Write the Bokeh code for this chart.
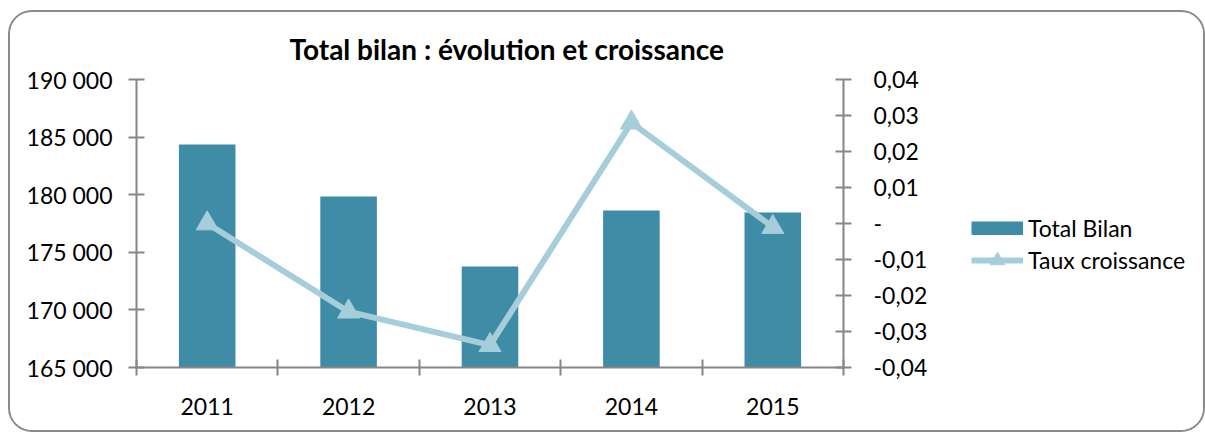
from bokeh.plotting import figure
from bokeh.layouts import row
from bokeh.models import (Range1d, LinearAxis, FixedTicker, CustomJSTickFormatter,
                          Legend, LegendItem, ColumnDataSource)
from bokeh.embed import file_html
from bokeh.resources import INLINE

# ---- data ----
years = ["2011", "2012", "2013", "2014", "2015"]
total_bilan = [184360, 179850, 173770, 178630, 178460]
taux_croissance = [0.0, -0.0245, -0.0338, 0.0280, -0.0010]

left_ticks = [165000, 170000, 175000, 180000, 185000, 190000]
left_labels = ["165 000", "170 000", "175 000", "180 000", "185 000", "190 000"]
right_ticks = [-0.04, -0.03, -0.02, -0.01, 0.0, 0.01, 0.02, 0.03, 0.04]
right_labels = ["-0,04", "-0,03", "-0,02", "-0,01", "-", "0,01", "0,02", "0,03", "0,04"]
series_names = ["Total Bilan", "Taux croissance"]

BAR = "#3e8ca5"
LINE = "#a6cdda"
AXIS = "#868686"
FONT = "Lato"
H = 418

xc = [i + 0.5 for i in range(len(years))]
src = ColumnDataSource(dict(x=xc, year=years, tb=total_bilan, tc=taux_croissance))

p = figure(width=933, height=H, output_backend="svg", toolbar_location=None,
           x_range=Range1d(0, len(years)), y_range=Range1d(left_ticks[0], left_ticks[-1]),
           x_axis_location=None, y_axis_location=None,
           min_border_left=126, min_border_top=67, min_border_bottom=63, min_border_right=100)
p.extra_y_ranges = {"rate": Range1d(right_ticks[0], right_ticks[-1])}
p.xgrid.visible = False
p.ygrid.visible = False
p.outline_line_color = None
p.background_fill_color = "white"
p.border_fill_color = "white"

p.title.text = "Total bilan : évolution et croissance"
p.title.text_font = FONT
p.title.text_font_style = "bold"
p.title.text_font_size = "28px"
p.title.text_color = "black"
p.title.align = "left"
p.title.offset = 153
p.title.standoff = 28

def fmt(ticks, labels):
    return CustomJSTickFormatter(args=dict(t=ticks, l=labels), code="""
        let best = 0, d = 1e99;
        for (let i = 0; i < t.length; i++) { const dd = Math.abs(t[i] - tick); if (dd < d) { d = dd; best = i; } }
        return l[best];
    """)

def style_axis(ax):
    ax.axis_line_color = AXIS
    ax.axis_line_width = 2
    ax.major_tick_line_color = AXIS
    ax.major_tick_line_width = 2
    ax.major_tick_in = 8
    ax.major_tick_out = 8
    ax.minor_tick_line_color = None
    ax.major_label_text_font = FONT
    ax.major_label_text_font_size = "23px"
    ax.major_label_text_color = "black"
    ax.major_label_standoff = 16

yl = LinearAxis(ticker=FixedTicker(ticks=left_ticks), formatter=fmt(left_ticks, left_labels))
style_axis(yl)
p.add_layout(yl, "left")

yr = LinearAxis(y_range_name="rate", ticker=FixedTicker(ticks=right_ticks),
                formatter=fmt(right_ticks, right_labels))
style_axis(yr)
yr.major_label_text_align = "left"
yr.major_label_standoff = 22
p.add_layout(yr, "right")

bounds = list(range(len(years) + 1))
xb = LinearAxis(ticker=FixedTicker(ticks=bounds),
                formatter=CustomJSTickFormatter(code="return '';"))
style_axis(xb)
xb.major_label_text_font_size = "1px"
xb.major_label_standoff = 0
p.add_layout(xb, "below")

xl = LinearAxis(ticker=FixedTicker(ticks=xc), formatter=fmt(xc, years))
style_axis(xl)
xl.axis_line_color = None
xl.major_tick_line_color = None
xl.major_tick_in = 0
xl.major_tick_out = 0
xl.major_label_standoff = 22
p.add_layout(xl, "below")

p.vbar(x="x", top="tb", bottom=left_ticks[0], width=0.4, source=src,
       fill_color=BAR, line_color=None)
p.line(x="x", y="tc", source=src, y_range_name="rate", line_color=LINE, line_width=6)
p.scatter(x="x", y="tc", source=src, y_range_name="rate", marker="triangle",
          size=22, fill_color=LINE, line_color=LINE)

# ---- legend panel (second figure holding the legend; its series sit outside its view) ----
lg = figure(width=260, height=H, output_backend="svg", toolbar_location=None,
            x_range=Range1d(-1000, -999), y_range=Range1d(-1000, -999),
            x_axis_location=None, y_axis_location=None,
            min_border_left=0, min_border_right=0, min_border_top=0, min_border_bottom=0)
lg.xgrid.visible = False
lg.ygrid.visible = False
lg.outline_line_color = None
lg.background_fill_color = "white"
lg.border_fill_color = "white"

r_bar = lg.line(x="x", y="tb", source=src, line_color=BAR, line_width=14)
r_line = lg.line(x="x", y="tc", source=src, line_color=LINE, line_width=6)
r_mark = lg.scatter(x="x", y="tc", source=src, marker="triangle",
                    fill_color=LINE, line_color=LINE)

common = dict(orientation="vertical", glyph_width=52, label_height=28, spacing=0,
              label_standoff=5, padding=0, margin=0, border_line_color=None,
              background_fill_alpha=0, label_text_font=FONT,
              label_text_font_size="23px", label_text_color="black")
leg1 = Legend(items=[LegendItem(label=series_names[0], renderers=[r_bar])],
              location=(28, 125), glyph_height=14, **common)
leg2 = Legend(items=[LegendItem(label=series_names[1], renderers=[r_line, r_mark])],
              location=(28, 89), glyph_height=36, **common)
lg.add_layout(leg1, "center")
lg.add_layout(leg2, "center")

layout = row(p, lg, spacing=0,
             styles={"border": "2px solid #8a8a8a", "border-radius": "24px",
                     "margin-left": "8px", "margin-top": "10px", "overflow": "hidden"})

open("out.html", "w").write(file_html(layout, INLINE))
